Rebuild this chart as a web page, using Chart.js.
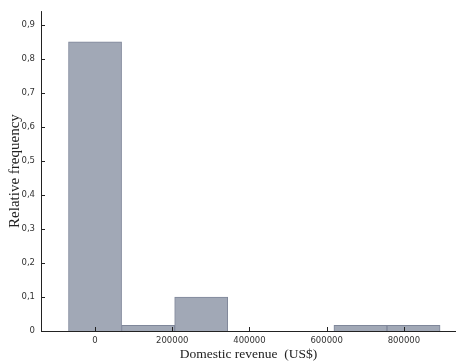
<!DOCTYPE html>
<html>
<head>
<meta charset="utf-8">
<script src="https://cdn.jsdelivr.net/npm/chart.js@4"></script>
<style>
html,body{margin:0;padding:0;background:#fff;}
#wrap{width:457px;height:363px;position:relative;}
</style>
</head>
<body>
<div id="wrap"><canvas id="c" width="457" height="363"></canvas></div>
<script>
// Histogram bin centers (US$) and relative frequencies
const binCenters = [0, 137500, 275000, 412500, 550000, 687500, 825000];
const relFreq = [0.85, 0.0167, 0.1, 0, 0, 0.0167, 0.0167];
const xTickValues = [0, 200000, 400000, 600000, 800000];
const yTickValues = [0, 0.1, 0.2, 0.3, 0.4, 0.5, 0.6, 0.7, 0.8, 0.9];
const xTitle = 'Domestic revenue  (US$)';
const yTitle = 'Relative frequency';

const points = binCenters.map((x, i) => ({x: x, y: relFreq[i]}));

const innerTicks = {
  id: 'innerTicks',
  afterDraw(chart) {
    const ctx = chart.ctx;
    const xs = chart.scales.x, ys = chart.scales.y;
    ctx.save();
    ctx.strokeStyle = '#222';
    ctx.lineWidth = 1;
    ctx.beginPath();
    ctx.moveTo(Math.round(xs.left) + 0.5, ys.top);
    ctx.lineTo(Math.round(xs.left) + 0.5, Math.round(ys.bottom) + 0.5);
    ctx.lineTo(xs.right, Math.round(ys.bottom) + 0.5);
    xs.ticks.forEach(t => {
      const px = Math.round(xs.getPixelForValue(t.value)) + 0.5;
      ctx.moveTo(px, ys.bottom);
      ctx.lineTo(px, ys.bottom - 4);
    });
    ys.ticks.forEach(t => {
      const py = Math.round(ys.getPixelForValue(t.value)) + 0.5;
      ctx.moveTo(xs.left, py);
      ctx.lineTo(xs.left + 4, py);
    });
    ctx.stroke();
    ctx.restore();
  }
};

new Chart(document.getElementById('c'), {
  type: 'bar',
  data: {
    datasets: [{
      data: points,
      backgroundColor: '#a1a8b6',
      borderColor: '#7f879a',
      borderWidth: 1,
      barPercentage: 1.0,
      categoryPercentage: 1.0
    }]
  },
  options: {
    responsive: false,
    animation: false,
    layout: {padding: {left: 6, right: 1, top: 10, bottom: 0}},
    plugins: {legend: {display: false}, tooltip: {enabled: false}},
    scales: {
      x: {
        type: 'linear',
        min: -140000,
        max: 935000,
        offset: false,
        grid: {display: false, drawTicks: false},
        border: {display: false},
        afterBuildTicks: s => { s.ticks = xTickValues.map(v => ({value: v})); },
        afterFit: s => { s.height = 32; },
        ticks: {
          autoSkip: false,
          maxRotation: 0,
          padding: 5,
          color: '#333',
          font: {family: 'DejaVu Sans', size: 8.5},
          callback: v => String(v)
        },
        title: {
          display: true,
          text: xTitle,
          color: '#222',
          padding: {top: 3, bottom: 0},
          font: {family: 'Liberation Serif', size: 13.5}
        }
      },
      y: {
        min: 0,
        max: 0.94,
        grid: {display: false, drawTicks: false},
        border: {display: false},
        afterBuildTicks: s => { s.ticks = yTickValues.map(v => ({value: v})); },
        afterFit: s => { s.width = 35; },
        ticks: {
          padding: 6,
          color: '#333',
          font: {family: 'DejaVu Sans', size: 8.5},
          callback: v => String(Math.round(v * 10) / 10).replace('.', ',')
        },
        title: {
          display: true,
          text: yTitle,
          color: '#222',
          padding: {top: 0, bottom: 0},
          font: {family: 'Liberation Serif', size: 15}
        }
      }
    }
  },
  plugins: [innerTicks]
});
</script>
</body>
</html>
